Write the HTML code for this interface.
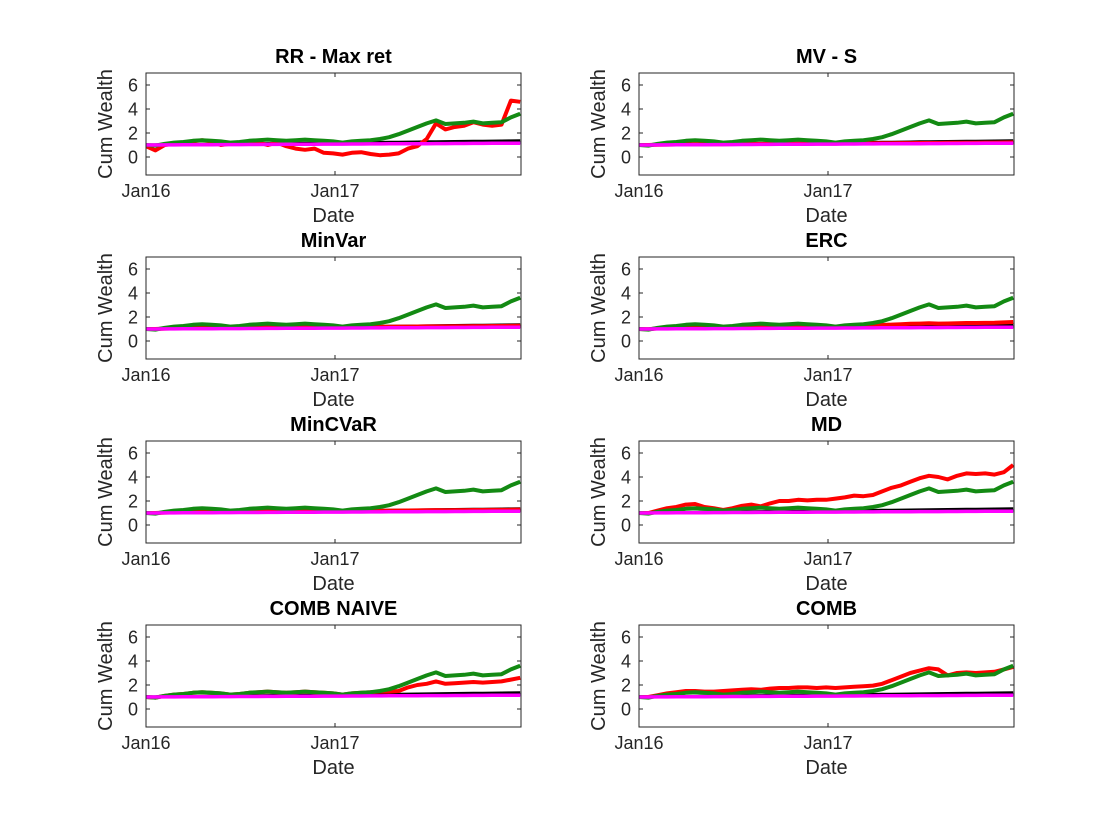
<!DOCTYPE html>
<html><head><meta charset="utf-8"><style>
html,body{margin:0;padding:0;background:#fff;}
svg{display:block;font-family:"Liberation Sans",Arial,sans-serif;}
</style></head><body>
<svg id="fig" width="1120" height="840" viewBox="0 0 1120 840" xmlns="http://www.w3.org/2000/svg"></svg>
<script>
// time grid: 41 points from Jan16 (0 yr) to ~1.98 yr
const nPts = 41;
const yTicks = [0, 2, 4, 6];
const xTickLabels = ["Jan16", "Jan17"];
const xTickYears = [0, 1];
const titles = ["RR - Max ret","MV - S","MinVar","ERC","MinCVaR","MD","COMB NAIVE","COMB"];
const greenSeries = [1.0,0.95,1.1,1.2,1.25,1.35,1.4,1.35,1.3,1.2,1.25,1.35,1.4,1.45,1.4,1.35,1.4,1.45,1.4,1.35,1.3,1.2,1.3,1.35,1.4,1.5,1.65,1.9,2.2,2.5,2.8,3.05,2.75,2.8,2.85,2.95,2.8,2.85,2.9,3.3,3.6];
const blackStart = 1.0, blackEnd = 1.35;
const magentaStart = 1.0, magentaEnd = 1.15;
const blueStart = 1.0, blueEnd = 1.2;
const redRR = [0.9,0.55,1.0,1.1,1.2,1.3,1.4,1.3,1.0,1.1,1.2,1.1,1.2,1.0,1.2,0.9,0.7,0.6,0.7,0.35,0.3,0.2,0.35,0.4,0.25,0.15,0.2,0.3,0.7,0.9,1.5,2.8,2.3,2.5,2.6,2.9,2.7,2.6,2.7,4.7,4.6];
const redMVS = [1.0,1.0,1.02,1.03,1.04,1.05,1.06,1.06,1.07,1.07,1.08,1.08,1.09,1.09,1.1,1.1,1.1,1.11,1.11,1.12,1.12,1.12,1.13,1.13,1.14,1.14,1.15,1.15,1.16,1.16,1.17,1.17,1.17,1.18,1.18,1.19,1.19,1.2,1.2,1.21,1.22];
const redMinVar = [1.0,1.0,1.03,1.05,1.06,1.08,1.09,1.09,1.1,1.1,1.11,1.12,1.12,1.13,1.13,1.14,1.14,1.15,1.15,1.15,1.16,1.16,1.17,1.17,1.18,1.18,1.19,1.2,1.2,1.21,1.22,1.22,1.22,1.23,1.23,1.24,1.24,1.25,1.25,1.26,1.27];
const redERC = [1.0,0.98,1.05,1.1,1.12,1.15,1.18,1.16,1.15,1.12,1.14,1.17,1.2,1.22,1.21,1.2,1.22,1.24,1.23,1.22,1.21,1.18,1.22,1.24,1.27,1.3,1.33,1.37,1.4,1.43,1.45,1.48,1.45,1.46,1.48,1.5,1.5,1.51,1.52,1.55,1.58];
const redMinCVaR = [1.0,1.0,1.03,1.05,1.07,1.08,1.09,1.09,1.1,1.1,1.11,1.12,1.12,1.13,1.13,1.14,1.14,1.15,1.15,1.15,1.16,1.16,1.17,1.17,1.18,1.18,1.19,1.2,1.21,1.22,1.23,1.24,1.23,1.24,1.24,1.25,1.25,1.26,1.26,1.27,1.28];
const redMD = [1.0,1.0,1.2,1.4,1.5,1.7,1.75,1.5,1.4,1.25,1.4,1.6,1.7,1.55,1.8,2.0,2.0,2.1,2.05,2.1,2.1,2.2,2.3,2.45,2.4,2.5,2.8,3.1,3.3,3.6,3.9,4.1,4.0,3.8,4.1,4.3,4.25,4.3,4.2,4.4,5.0];
const redNaive = [1.0,0.95,1.1,1.2,1.25,1.35,1.4,1.35,1.3,1.2,1.25,1.35,1.4,1.45,1.4,1.35,1.4,1.45,1.4,1.35,1.3,1.2,1.3,1.35,1.4,1.45,1.45,1.5,1.8,2.0,2.1,2.3,2.1,2.15,2.2,2.25,2.2,2.25,2.3,2.45,2.6];
const redComb = [1.0,1.0,1.15,1.3,1.4,1.5,1.5,1.45,1.45,1.5,1.55,1.6,1.65,1.6,1.7,1.75,1.75,1.8,1.8,1.75,1.8,1.75,1.8,1.85,1.9,1.95,2.1,2.4,2.7,3.0,3.2,3.4,3.3,2.8,3.0,3.05,3.0,3.05,3.1,3.3,3.5];
const redSets = [redRR,redMVS,redMinVar,redERC,redMinCVaR,redMD,redNaive,redComb];

const NS = "http://www.w3.org/2000/svg";
const svg = document.getElementById("fig");
function mk(tag, attrs, parent){ const e=document.createElementNS(NS,tag); for(const k in attrs) e.setAttribute(k,attrs[k]); (parent||svg).appendChild(e); return e; }

const colLeft=[146,639], axW=375, axH=102, rowTop=[73,257,441,625];
const yMin=-1.5, yMax=7, xMaxYears=1.98;
const pxPerYear = 189;

titles.forEach((title,idx)=>{
  const r=Math.floor(idx/2), c=idx%2;
  const L=colLeft[c], T=rowTop[r];
  const g=mk("g",{});
  
  
  const sx = t => L + t*pxPerYear;
  const sy = v => T + axH - (v - yMin)/(yMax-yMin)*axH;
  const xs = i => sx(i/(nPts-1)*xMaxYears);
  const cid='clip'+idx;
  const cp=mk("clipPath",{id:cid},g); mk("rect",{x:L,y:T,width:axW,height:axH},cp);
  const lines=mk("g",{"clip-path":"url(#"+cid+")"},g);
  function poly(vals,color,name,w){
    const p=mk("polyline",{points:vals.map((v,i)=>xs(i).toFixed(1)+","+sy(v).toFixed(1)).join(" "),fill:"none",stroke:color,"stroke-width":w||3.5,"stroke-linejoin":"round"},lines);
    
    
  }
  const lin=(a,b)=>Array.from({length:nPts},(_,i)=>a+(b-a)*i/(nPts-1));
  poly(lin(blueStart,blueEnd),"#1a1a8c","blue-series-line",3);
  poly(lin(blackStart,blackEnd),"#000","black-series-line",3);
  poly(redSets[idx],"#f00","red-strategy-line",4);
  poly(greenSeries,"#138a13","green-benchmark-line",4);
  poly(lin(magentaStart,magentaEnd),"#ff00ff","magenta-series-line",3.5);
  const box=mk("rect",{x:L,y:T,width:axW,height:axH,fill:"none",stroke:"#262626","stroke-width":1},g);
  
  
  yTicks.forEach(v=>{
    const y=sy(v);
    mk("line",{x1:L,x2:L+4,y1:y,y2:y,stroke:"#262626"},g);
    mk("line",{x1:L+axW,x2:L+axW-4,y1:y,y2:y,stroke:"#262626"},g);
    const t=mk("text",{x:L-8,y:y+6.5,"text-anchor":"end","font-size":18,fill:"#262626"},g);
    t.textContent=v;
    
    
  });
  xTickYears.forEach((yr,k)=>{
    const x=sx(yr);
    mk("line",{x1:x,x2:x,y1:T+axH,y2:T+axH-4,stroke:"#262626"},g);
    mk("line",{x1:x,x2:x,y1:T,y2:T+4,stroke:"#262626"},g);
    const t=mk("text",{x:x,y:T+axH+22,"text-anchor":"middle","font-size":18,fill:"#262626"},g);
    t.textContent=xTickLabels[k];
    
    
  });
  const tt=mk("text",{x:L+axW/2,y:T-10,"text-anchor":"middle","font-size":20,"font-weight":"bold",fill:"#000"},g);
  tt.textContent=title;
  
  
  const xl=mk("text",{x:L+axW/2,y:T+axH+47,"text-anchor":"middle","font-size":20,fill:"#262626"},g);
  xl.textContent="Date";
  
  
  const yl=mk("text",{x:0,y:0,"text-anchor":"middle","font-size":20,fill:"#262626",transform:"translate("+(L-34)+","+(T+axH/2)+") rotate(-90)"},g);
  yl.textContent="Cum Wealth";
  
  
});
</script>
</body></html>
